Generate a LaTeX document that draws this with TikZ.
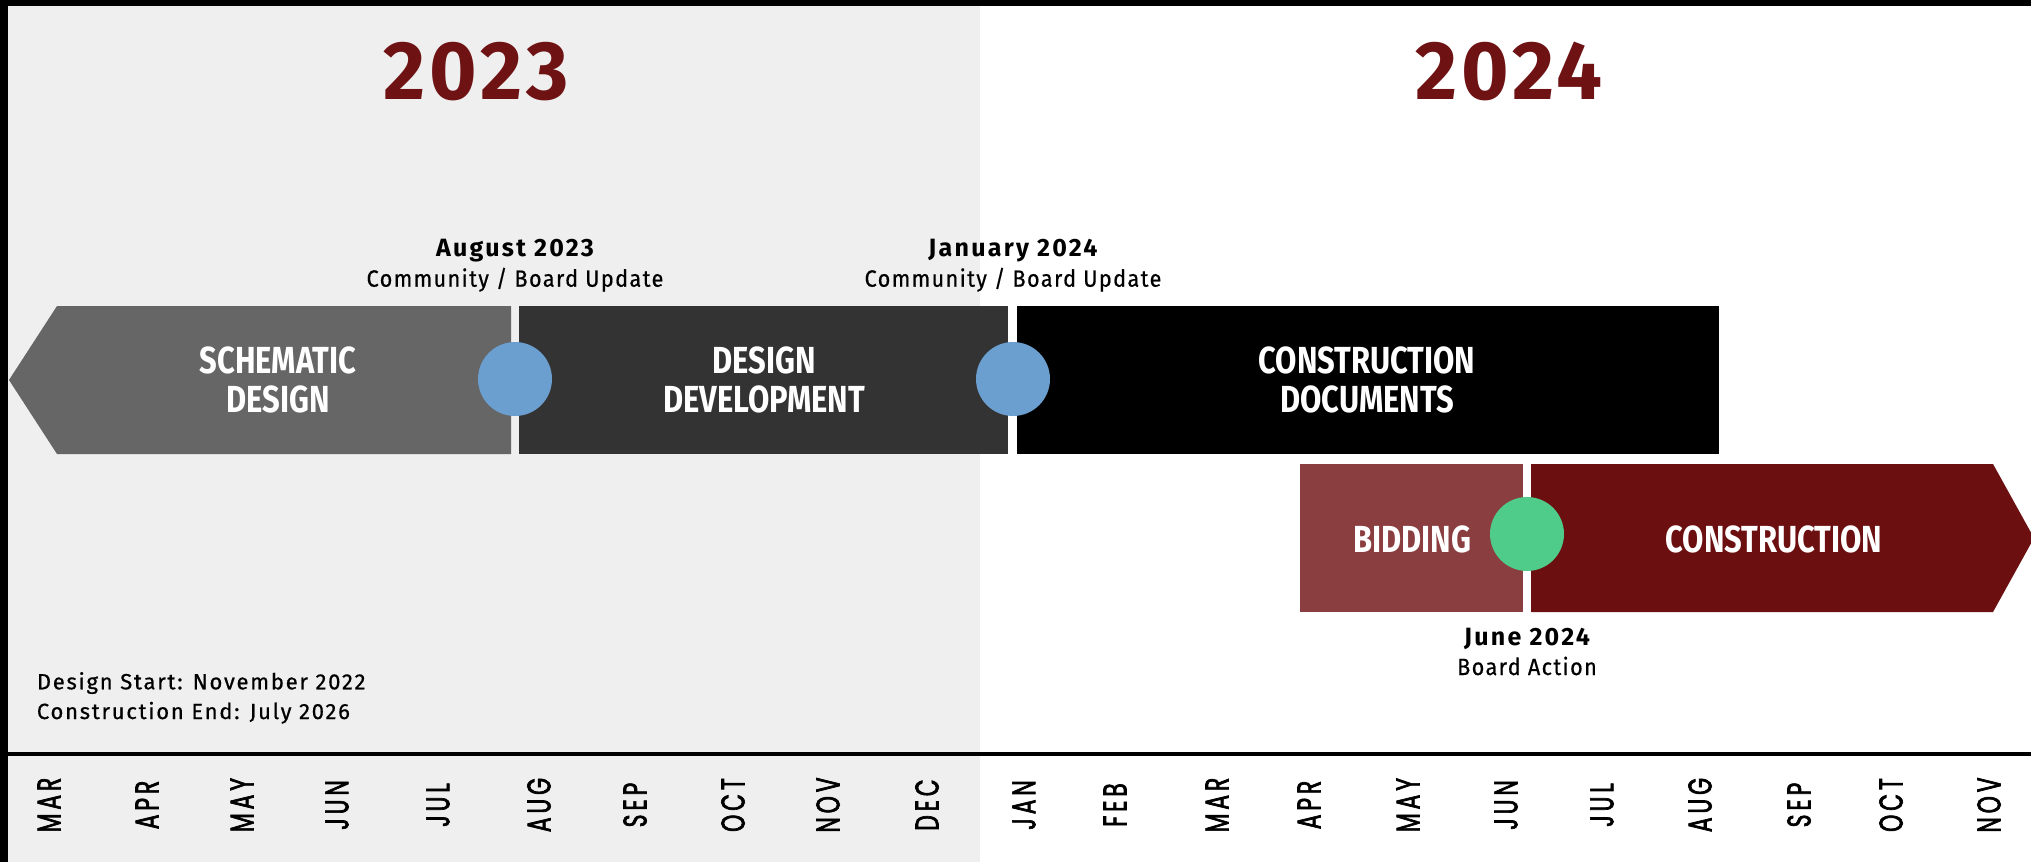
\documentclass[tikz,border=0pt]{standalone}
\usepackage{fontspec}
\newfontfamily\yearfont[FakeStretch=0.98,LetterSpace=5]{Fira Sans}
\newfontfamily\phasefont[FakeStretch=0.82]{Fira Sans}
\newfontfamily\mstfont[FakeStretch=1.0,LetterSpace=9]{Fira Sans}
\newfontfamily\mssfont[FakeStretch=0.92,LetterSpace=6,FakeBold=0.6]{Fira Sans}
\newfontfamily\notefont[FakeStretch=1.0,LetterSpace=8,FakeBold=0.6]{Fira Sans}
\newfontfamily\monthfont[FakeStretch=0.66,LetterSpace=12,FakeBold=2]{Poppins}
\definecolor{bggray}{HTML}{EFEFEF}
\definecolor{sdgray}{HTML}{666666}
\definecolor{ddgray}{HTML}{333333}
\definecolor{bidred}{HTML}{8B3E3F}
\definecolor{conred}{HTML}{6C0F10}
\definecolor{yearred}{HTML}{6E1214}
\definecolor{msblue}{HTML}{6A9FD0}
\definecolor{msgreen}{HTML}{4FCB8A}
\tikzset{
  yearlbl/.style={text=yearred, font=\yearfont\bfseries\fontsize{83}{90}\selectfont, inner sep=0pt},
  phaselbl/.style={text=white, align=center, font=\phasefont\bfseries\fontsize{37.7}{38.5}\selectfont, inner sep=0pt},
  msdot/.style={circle, minimum size=74pt, inner sep=0pt},
  mstitle/.style={anchor=base, inner sep=0pt, font=\mstfont\bfseries\fontsize{25}{28}\selectfont},
  mssub/.style={anchor=base, inner sep=0pt, font=\mssfont\fontsize{23.5}{28}\selectfont},
  notelbl/.style={anchor=base west, inner sep=0pt, font=\notefont\fontsize{22}{26}\selectfont},
  monthlbl/.style={rotate=90, inner sep=0pt, font=\monthfont\fontsize{33}{36}\selectfont}
}
\begin{document}
\begin{tikzpicture}[x=1pt,y=-1pt]
\useasboundingbox (0,0) rectangle (2031,862);
\fill[white] (0,0) rectangle (2031,862);
\fill[bggray] (8,6) rectangle (980,862);
\fill[black] (0,0) rectangle (2031,6);
\fill[black] (0,0) rectangle (8,862);
% axis
\coordinate (axL) at (8,754);
\coordinate (axR) at (2031,754);
\draw[line width=4pt] (axL) -- (axR);
% years
\node[yearlbl] (y23) at (476,71.5) {2023};
\node[yearlbl] (y24) at (1509,71.5) {2024};
% phase bars
\fill[sdgray] (9,380) -- (57,306) -- (511,306) -- (511,454) -- (57,454) -- cycle;
\fill[ddgray] (519,306) rectangle (1008,454);
\fill[black] (1017,306) rectangle (1719,454);
\fill[bidred] (1300,464) rectangle (1523,612);
\fill[conred] (1531,464) -- (1993,464) -- (2034,538) -- (1993,612) -- (1531,612) -- cycle;
\node[phaselbl] (sd) at (278,380) {SCHEMATIC\\DESIGN};
\node[phaselbl] (dd) at (764,380) {DESIGN\\DEVELOPMENT};
\node[phaselbl] (cd) at (1367,380) {CONSTRUCTION\\DOCUMENTS};
\node[phaselbl] (bid) at (1412,539) {BIDDING};
\node[phaselbl] (con) at (1774,539) {CONSTRUCTION};
% milestones
\node[msdot, fill=msblue] (m1) at (515,379) {};
\node[msdot, fill=msblue] (m2) at (1013,379) {};
\node[msdot, fill=msgreen] (m3) at (1527,534) {};
\node[mstitle] (m1t) at (515,256.7) {August 2023};
\node[mssub] (m1s) at (515,286.7) {Community / Board Update};
\node[mstitle] (m2t) at (1013,256.7) {January 2024};
\node[mssub] (m2s) at (1013,286.7) {Community / Board Update};
\node[mstitle] (m3t) at (1527,645) {June 2024};
\node[mssub] (m3s) at (1527,675) {Board Action};
% notes
\node[notelbl] (n1) at (36.7,689.3) {Design Start: November 2022};
\node[notelbl] (n2) at (36.7,719) {Construction End: July 2026};
% months
\foreach \m/\x [count=\i] in {MAR/49,APR/147,MAY/242,JUN/337,JUL/438,AUG/539,SEP/635,OCT/733,NOV/828,DEC/927,JAN/1024,FEB/1115,MAR/1217,APR/1309,MAY/1408,JUN/1506,JUL/1602,AUG/1700,SEP/1799,OCT/1891,NOV/1989}
  \node[monthlbl] (mo\i) at (\x,805) {\m};
\end{tikzpicture}
\end{document}
